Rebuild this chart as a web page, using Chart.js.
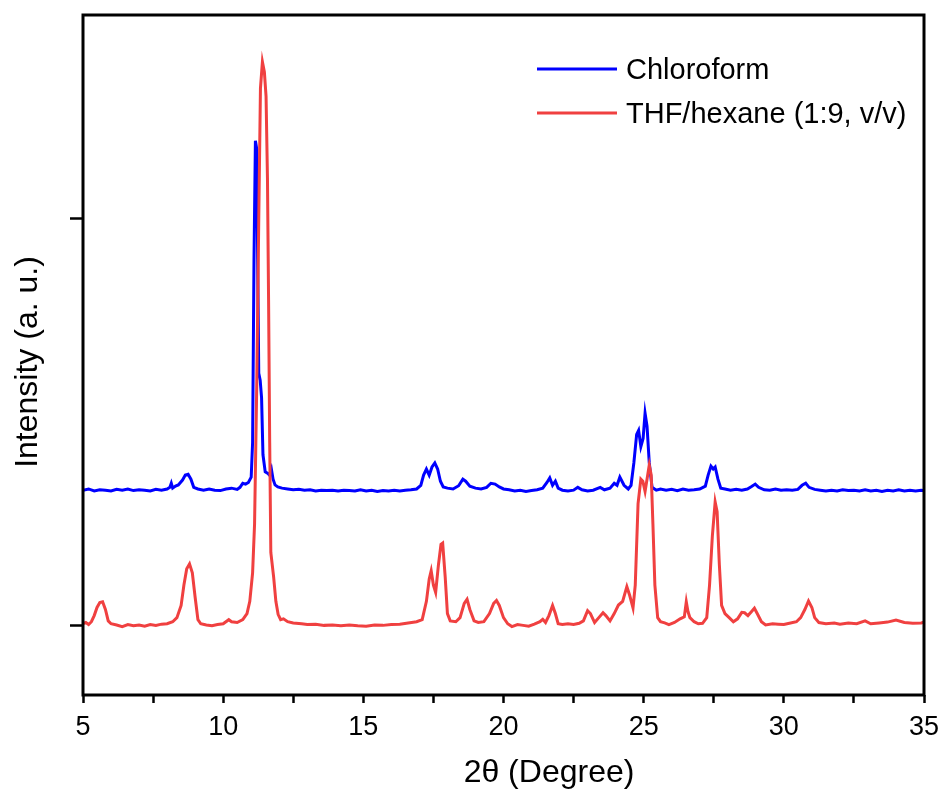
<!DOCTYPE html>
<html>
<head>
<meta charset="utf-8">
<script src="https://cdn.jsdelivr.net/npm/chart.js@4.4.1/dist/chart.umd.min.js"></script>
<style>
html,body{margin:0;padding:0;background:#fff;}
#wrap{width:941px;height:789px;}
</style>
</head>
<body>
<div id="wrap"><canvas id="c" width="941" height="789"></canvas></div>
<script>
// ---- data ----
const seriesNames = ["Chloroform", "THF/hexane (1:9, v/v)"];

const chloroformX = [5.0,5.2,5.4,5.6,5.8,6.0,6.2,6.4,6.6,6.8,7.0,7.2,7.4,7.6,7.8,8.0,8.1,8.15,8.2,8.3,8.4,8.55,8.65,8.75,8.85,8.95,9.1,9.3,9.5,9.7,9.9,10.1,10.3,10.5,10.6,10.7,10.8,10.9,11.0,11.05,11.1,11.15,11.2,11.23,11.27,11.32,11.37,11.42,11.5,11.58,11.65,11.72,11.78,11.85,11.95,12.1,12.3,12.5,12.7,12.9,13.1,13.3,13.5,13.7,13.9,14.1,14.3,14.5,14.7,14.9,15.1,15.3,15.5,15.7,15.9,16.1,16.3,16.5,16.7,16.9,17.05,17.15,17.25,17.35,17.45,17.55,17.65,17.75,17.85,18.0,18.2,18.4,18.55,18.65,18.8,19.0,19.2,19.4,19.55,19.7,19.85,20.0,20.2,20.4,20.6,20.8,21.0,21.2,21.4,21.55,21.65,21.75,21.85,21.95,22.1,22.3,22.5,22.65,22.8,23.0,23.2,23.45,23.6,23.8,23.95,24.05,24.15,24.3,24.45,24.55,24.65,24.75,24.82,24.9,24.98,25.05,25.12,25.2,25.3,25.45,25.6,25.8,26.0,26.2,26.4,26.6,26.8,27.0,27.2,27.3,27.4,27.48,27.55,27.65,27.75,27.9,28.1,28.3,28.5,28.7,28.85,28.98,29.1,29.3,29.5,29.7,29.9,30.1,30.3,30.5,30.65,30.78,30.9,31.1,31.3,31.5,31.7,31.9,32.1,32.3,32.5,32.7,32.9,33.1,33.3,33.5,33.7,33.9,34.1,34.3,34.5,34.7,34.9,35.0];
const chloroformY = [333,336,331,334,333,331,335,333,336,332,334,333,331,335,333,336,340,350,338,343,346,358,370,372,360,340,336,333,336,333,332,336,338,335,340,350,348,352,365,450,900,1191,1170,900,620,603,560,420,378,375,370,385,360,346,341,338,336,334,335,333,334,331,333,332,333,331,333,332,331,334,331,333,330,332,331,333,331,333,334,336,345,370,385,370,390,400,385,355,341,338,336,344,360,355,343,338,336,340,350,348,341,336,334,331,333,330,332,334,338,352,363,345,355,338,333,331,333,340,334,331,333,340,334,338,350,345,365,345,336,345,400,470,480,440,460,522,490,400,340,333,336,333,335,332,336,333,334,336,343,370,392,385,390,360,338,336,333,335,333,336,342,348,340,334,333,336,333,334,333,335,345,350,340,335,333,331,333,331,334,332,333,331,334,331,333,330,333,331,334,331,333,331,333,332];

const thfX = [5.0,5.1,5.2,5.3,5.4,5.5,5.6,5.7,5.8,5.9,6.0,6.2,6.4,6.6,6.8,7.0,7.2,7.4,7.6,7.8,8.0,8.2,8.35,8.5,8.6,8.7,8.8,8.9,9.0,9.1,9.2,9.4,9.6,9.8,10.0,10.2,10.3,10.5,10.7,10.85,10.95,11.05,11.12,11.2,11.27,11.33,11.4,11.47,11.53,11.58,11.62,11.66,11.7,11.8,11.88,11.96,12.05,12.15,12.3,12.5,12.8,13.0,13.3,13.6,13.9,14.2,14.5,14.8,15.1,15.4,15.7,16.0,16.3,16.6,16.9,17.1,17.25,17.35,17.42,17.5,17.58,17.68,17.77,17.83,17.92,18.0,18.1,18.3,18.45,18.6,18.7,18.8,18.95,19.1,19.3,19.5,19.65,19.75,19.85,20.0,20.15,20.3,20.5,20.7,20.9,21.1,21.3,21.4,21.5,21.62,21.75,21.85,21.95,22.1,22.3,22.5,22.7,22.85,23.0,23.1,23.25,23.4,23.55,23.65,23.8,23.95,24.1,24.25,24.4,24.5,24.62,24.7,24.8,24.9,24.97,25.05,25.12,25.2,25.27,25.33,25.4,25.5,25.6,25.75,25.9,26.1,26.3,26.45,26.52,26.58,26.65,26.8,26.95,27.1,27.25,27.35,27.45,27.55,27.62,27.7,27.78,27.9,28.05,28.2,28.35,28.5,28.6,28.72,28.85,28.95,29.05,29.2,29.35,29.6,29.8,30.0,30.2,30.45,30.6,30.75,30.88,31.0,31.1,31.25,31.5,31.8,32.0,32.3,32.6,32.9,33.1,33.4,33.7,34.0,34.3,34.6,34.9,35.0];
const thfY = [5,8,3,10,25,45,57,59,40,12,5,2,-2,3,0,2,-1,3,1,4,5,10,20,50,100,140,152,130,70,15,5,2,0,3,5,15,10,8,15,30,60,130,250,600,1000,1320,1385,1360,1300,1100,800,450,180,120,60,28,15,17,10,7,5,3,4,1,2,0,2,0,-1,2,1,3,4,7,10,15,60,115,135,100,82,150,200,203,120,30,12,10,20,55,65,40,12,8,10,30,55,62,50,20,5,-2,3,1,-1,4,10,16,8,25,50,30,5,3,5,3,6,12,37,30,8,20,32,25,12,30,51,60,96,75,44,100,300,360,355,330,360,395,370,250,100,20,10,7,3,8,17,22,59,35,20,10,5,6,20,100,220,304,280,150,50,30,20,10,17,33,32,25,35,43,30,10,2,5,4,3,6,10,20,40,61,45,20,8,5,7,4,7,5,12,5,7,9,14,8,6,7,9];

const xTickValues = [5,7.5,10,12.5,15,17.5,20,22.5,25,27.5,30,32.5,35];
const xTickLabels = ["5","","10","","15","","20","","25","","30","","35"];
const yTickValues = [0,1000];

const xTitle = "2θ (Degree)";
const yTitle = "Intensity (a. u.)";

// ---- build ----
function pts(xs, ys){ return xs.map((x,i)=>({x:x, y:ys[i]})); }

const FONT = "'Liberation Sans', Arial, sans-serif";
const BLUE = "#0000FF";
const RED = "rgb(240,64,64)";

const framePlugin = {
  id: 'frame',
  afterDraw(chart){
    const {ctx, chartArea:a} = chart;
    ctx.save();
    ctx.strokeStyle = '#000';
    ctx.lineWidth = 3;
    ctx.strokeRect(a.left, a.top, a.right - a.left, a.bottom - a.top);
    ctx.restore();
  }
};

const titlesPlugin = {
  id: 'axisTitles',
  afterDraw(chart){
    const ctx = chart.ctx;
    ctx.save();
    ctx.fillStyle = '#000';
    ctx.font = "32px " + FONT;
    ctx.textAlign = 'center';
    ctx.textBaseline = 'middle';
    ctx.fillText(xTitle, 549, 773);
    ctx.translate(28, 362);
    ctx.rotate(-Math.PI/2);
    ctx.fillText(yTitle, 0, 0);
    ctx.restore();
  }
};

const legendPlugin = {
  id: 'customLegend',
  afterDraw(chart){
    const ctx = chart.ctx;
    const items = [{label: seriesNames[0], color: BLUE, y: 69},{label: seriesNames[1], color: RED, y: 113}];
    ctx.save();
    ctx.font = "29px " + FONT;
    ctx.textBaseline = 'middle';
    ctx.textAlign = 'left';
    items.forEach(it=>{
      ctx.strokeStyle = it.color;
      ctx.lineWidth = 3;
      ctx.beginPath();
      ctx.moveTo(537, it.y);
      ctx.lineTo(617, it.y);
      ctx.stroke();
      ctx.fillStyle = '#000';
      ctx.fillText(it.label, 626, it.y + 2);
    });
    ctx.restore();
  }
};

new Chart(document.getElementById('c'), {
  type: 'line',
  data: {
    datasets: [
      {label: seriesNames[0], data: pts(chloroformX, chloroformY), borderColor: BLUE, borderWidth: 3, pointRadius: 0, tension: 0, fill: false, order: 1},
      {label: seriesNames[1], data: pts(thfX, thfY), borderColor: RED, borderWidth: 3, pointRadius: 0, tension: 0, fill: false, order: 0}
    ]
  },
  options: {
    responsive: false,
    animation: false,
    devicePixelRatio: 1,
    layout: {padding: {top: 15, right: 17, left: 0, bottom: 0}},
    plugins: {legend: {display: false}, tooltip: {enabled: false}},
    scales: {
      x: {
        type: 'linear', min: 5, max: 35,
        afterBuildTicks(s){ s.ticks = xTickValues.map(v=>({value:v})); },
        afterFit(s){ s.height = 94; s.paddingRight = 0; s.paddingLeft = 0; },
        ticks: {
          autoSkip: false, maxRotation: 0, padding: 8, color: '#000',
          font: {family: FONT, size: 27},
          callback(v){ const i = xTickValues.indexOf(v); return i >= 0 ? xTickLabels[i] : ''; }
        },
        grid: {display: true, drawOnChartArea: false, drawTicks: true, tickLength: 8, tickWidth: 2.5, tickColor: '#000', color: '#000'},
        border: {display: false},
        title: {display: false, text: xTitle}
      },
      y: {
        type: 'linear', min: -170, max: 1500,
        afterBuildTicks(s){ s.ticks = yTickValues.map(v=>({value:v})); },
        afterFit(s){ s.width = 83; s.paddingTop = 0; s.paddingBottom = 0; },
        ticks: {display: false},
        grid: {display: true, drawOnChartArea: false, drawTicks: true, tickLength: 13, tickWidth: 2.5, tickColor: '#000', color: '#000'},
        border: {display: false},
        title: {display: false, text: yTitle}
      }
    }
  },
  plugins: [framePlugin, titlesPlugin, legendPlugin]
});
</script>
</body>
</html>
